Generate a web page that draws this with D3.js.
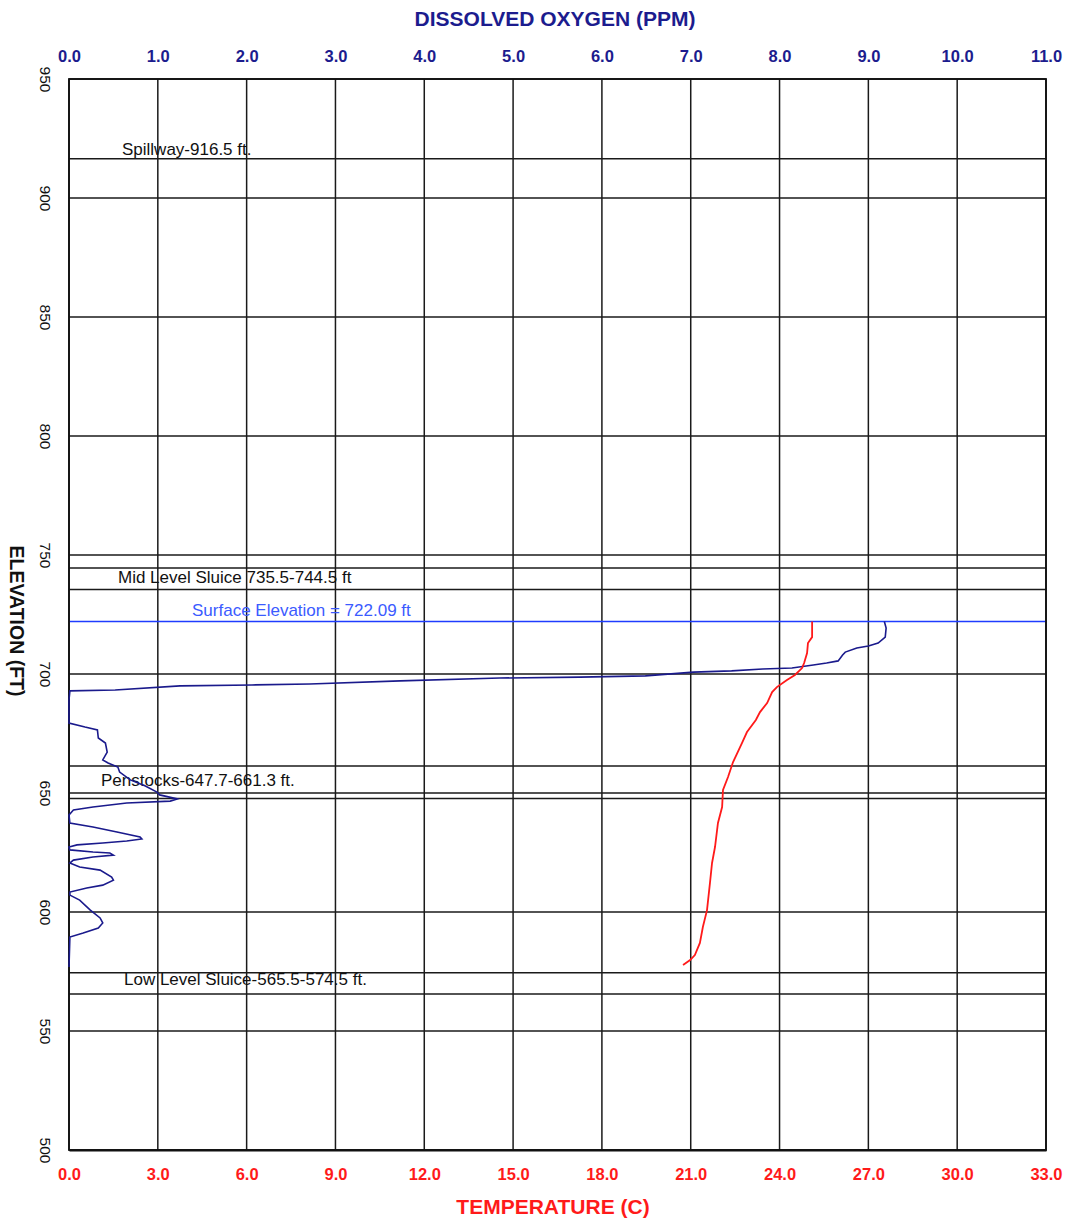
<!DOCTYPE html>
<html>
<head>
<meta charset="utf-8">
<script src="https://cdn.jsdelivr.net/npm/d3@7"></script>
<style>
  body { margin: 0; background: #fff; }
  svg { font-family: Arial, "Liberation Sans", sans-serif; }
</style>
</head>
<body>
<div id="chart"></div>
<script>
// ---- data ----
const doTicks = [0, 1, 2, 3, 4, 5, 6, 7, 8, 9, 10, 11];
const tempTicks = [0, 3, 6, 9, 12, 15, 18, 21, 24, 27, 30, 33];
const elevTicks = [500, 550, 600, 650, 700, 750, 800, 850, 900, 950];

// reference levels (black lines)
const levelElev = [916.5, 744.5, 735.5, 661.3, 647.7, 574.5, 565.5];
const surfaceElev = 722.09;

// labels for the structures
const labelText = [
  "Spillway-916.5 ft.",
  "Mid Level Sluice 735.5-744.5 ft",
  "Surface Elevation = 722.09 ft",
  "Penstocks-647.7-661.3 ft.",
  "Low Level Sluice-565.5-574.5 ft."
];
const labelElev = [916.5, 735.5, 722.09, 647.7, 565.5];

// dissolved oxygen profile (ppm vs elevation ft)
const doElev = [722.09, 719.3, 715.5, 713.0, 711.8, 710.9, 709.2, 708.0, 705.5, 704.6, 703.8, 702.5, 702.1, 701.3, 700.8,
  699.2, 698.7, 698.3, 697.1, 695.8, 695.4, 695.0, 693.3, 692.9, 689.1, 679.4, 677.7, 676.5, 673.1, 671.0, 667.2,
  663.9, 662.6, 660.9, 658.8, 655.5, 652.9, 650.4, 649.2, 647.5, 646.6, 645.8, 644.1, 642.9, 640.8, 637.4, 635.7,
  633.6, 631.5, 630.7, 629.8, 629.0, 628.2, 627.3, 626.1, 625.2, 624.8, 623.9, 623.1, 621.8, 620.6, 618.9, 617.6,
  614.7, 613.4, 611.3, 610.1, 608.4, 607.1, 605.0, 600.8, 597.5, 595.4, 593.3, 591.2, 589.5, 576.9];
const doValues = [9.18, 9.20, 9.19, 9.11, 9.00, 8.87, 8.74, 8.71, 8.66, 8.53, 8.38, 8.14, 7.81, 7.46, 7.03,
  6.49, 5.75, 4.85, 3.73, 2.71, 2.06, 1.25, 0.52, 0.01, 0.0, 0.0, 0.18, 0.32, 0.33, 0.41, 0.43,
  0.38, 0.44, 0.55, 0.57, 0.69, 0.86, 0.99, 1.02, 1.22, 1.14, 0.65, 0.27, 0.05, 0.0, 0.01, 0.27,
  0.54, 0.80, 0.82, 0.65, 0.38, 0.09, 0.0, 0.01, 0.27, 0.46, 0.50, 0.27, 0.05, 0.01, 0.12, 0.35,
  0.48, 0.50, 0.38, 0.20, 0.01, 0.01, 0.12, 0.24, 0.35, 0.38, 0.33, 0.16, 0.01, 0.0];

// temperature profile (C vs elevation ft)
const tempElev = [722.09, 715.5, 713.0, 708.8, 704.6, 702.5, 699.6, 697.5, 694.5, 692.4, 687.8, 684.0, 680.7, 675.6,
  671.0, 663.0, 656.7, 651.3, 644.1, 637.4, 627.3, 620.6, 612.2, 600.8, 593.7, 587.0, 581.9, 579.8, 577.7];
const tempValues = [25.10, 25.10, 24.96, 24.93, 24.83, 24.76, 24.52, 24.25, 23.91, 23.75, 23.58, 23.34, 23.20, 22.90,
  22.73, 22.43, 22.26, 22.09, 22.06, 21.92, 21.82, 21.72, 21.65, 21.55, 21.41, 21.31, 21.14, 20.98, 20.74];

// ---- layout ----
const W = 1070, H = 1220;
const plot = { left: 69, right: 1046, top: 79, bottom: 1150 };
const labelX = [122, 118, 192, 101, 124];
const labelDy = [-4, -7, -5, -12, -9];

const svg = d3.select("#chart").append("svg").attr("width", W).attr("height", H);

const y = d3.scaleLinear().domain([500, 950]).range([plot.bottom, plot.top]);
const xDO = d3.scaleLinear().domain([0, 11]).range([plot.left, plot.right]);
const xT = d3.scaleLinear().domain([0, 33]).range([plot.left, plot.right]);

// grid
const grid = svg.append("g").attr("stroke", "#1a1a1a").attr("stroke-width", 1.5);
grid.selectAll("line.v").data(doTicks).join("line").attr("class", "v")
  .attr("x1", d => xDO(d)).attr("x2", d => xDO(d)).attr("y1", plot.top).attr("y2", plot.bottom);
grid.selectAll("line.h").data(elevTicks).join("line").attr("class", "h")
  .attr("x1", plot.left).attr("x2", plot.right).attr("y1", d => y(d)).attr("y2", d => y(d));
grid.selectAll("line.lvl").data(levelElev).join("line").attr("class", "lvl")
  .attr("x1", plot.left).attr("x2", plot.right).attr("y1", d => y(d)).attr("y2", d => y(d));

// surface line
svg.append("line")
  .attr("x1", plot.left).attr("x2", plot.right).attr("y1", y(surfaceElev)).attr("y2", y(surfaceElev))
  .attr("stroke", "#1f3cff").attr("stroke-width", 1.6);

// frame
svg.append("rect").attr("x", plot.left).attr("y", plot.top)
  .attr("width", plot.right - plot.left).attr("height", plot.bottom - plot.top)
  .attr("fill", "none").attr("stroke", "#111").attr("stroke-width", 1.8);

// top axis: dissolved oxygen
const topAxis = svg.append("g").attr("transform", `translate(0,${plot.top})`)
  .call(d3.axisTop(xDO).tickValues(doTicks).tickFormat(d3.format(".1f")).tickSize(0).tickPadding(17));
topAxis.select(".domain").remove();
topAxis.selectAll("text").attr("fill", "#1c1c8e").attr("font-size", 16.5).attr("font-weight", "bold")
  .attr("font-family", "Arial, 'Liberation Sans', sans-serif");

// bottom axis: temperature
const botAxis = svg.append("g").attr("transform", `translate(0,${plot.bottom})`)
  .call(d3.axisBottom(xT).tickValues(tempTicks).tickFormat(d3.format(".1f")).tickSize(0).tickPadding(18));
botAxis.select(".domain").attr("stroke", "#111").attr("stroke-width", 2);
botAxis.selectAll("text").attr("fill", "#ff1a1a").attr("font-size", 16.5).attr("font-weight", "bold")
  .attr("font-family", "Arial, 'Liberation Sans', sans-serif");

// left axis: elevation, labels rotated
const leftAxis = svg.append("g").attr("transform", `translate(${plot.left},0)`)
  .call(d3.axisLeft(y).tickValues(elevTicks).tickFormat(d3.format("d")).tickSize(0));
leftAxis.select(".domain").remove();
leftAxis.selectAll("text")
  .attr("x", null).attr("dy", null)
  .attr("text-anchor", "middle")
  .attr("transform", "translate(-29,0) rotate(90)")
  .attr("fill", "#111").attr("font-size", 15.5)
  .attr("font-family", "Arial, 'Liberation Sans', sans-serif");

// titles
svg.append("text").attr("x", 555).attr("y", 26).attr("text-anchor", "middle")
  .attr("font-size", 21).attr("font-weight", "bold").attr("fill", "#1c1c8e")
  .text("DISSOLVED OXYGEN (PPM)");
svg.append("text").attr("x", 553).attr("y", 1214).attr("text-anchor", "middle")
  .attr("font-size", 21).attr("font-weight", "bold").attr("fill", "#ff1a1a")
  .text("TEMPERATURE (C)");
svg.append("text").attr("transform", "translate(10,621) rotate(90)").attr("text-anchor", "middle")
  .attr("font-size", 19.5).attr("font-weight", "bold").attr("fill", "#111")
  .text("ELEVATION (FT)");

// structure labels
svg.selectAll("text.lbl").data(labelText).join("text").attr("class", "lbl")
  .attr("x", (d, i) => labelX[i])
  .attr("y", (d, i) => y(labelElev[i]) + labelDy[i])
  .attr("font-size", 17)
  .attr("fill", (d, i) => labelElev[i] === surfaceElev ? "#3b5bff" : "#111")
  .text(d => d);

// profiles
const doLine = d3.line().x(d => xDO(d[0])).y(d => y(d[1]));
svg.append("path")
  .datum(doValues.map((v, i) => [v, doElev[i]]))
  .attr("d", doLine).attr("fill", "none").attr("stroke", "#1a1a8c").attr("stroke-width", 1.6);

const tLine = d3.line().x(d => xT(d[0])).y(d => y(d[1]));
svg.append("path")
  .datum(tempValues.map((v, i) => [v, tempElev[i]]))
  .attr("d", tLine).attr("fill", "none").attr("stroke", "#ff1a1a").attr("stroke-width", 1.8);
</script>
</body>
</html>
